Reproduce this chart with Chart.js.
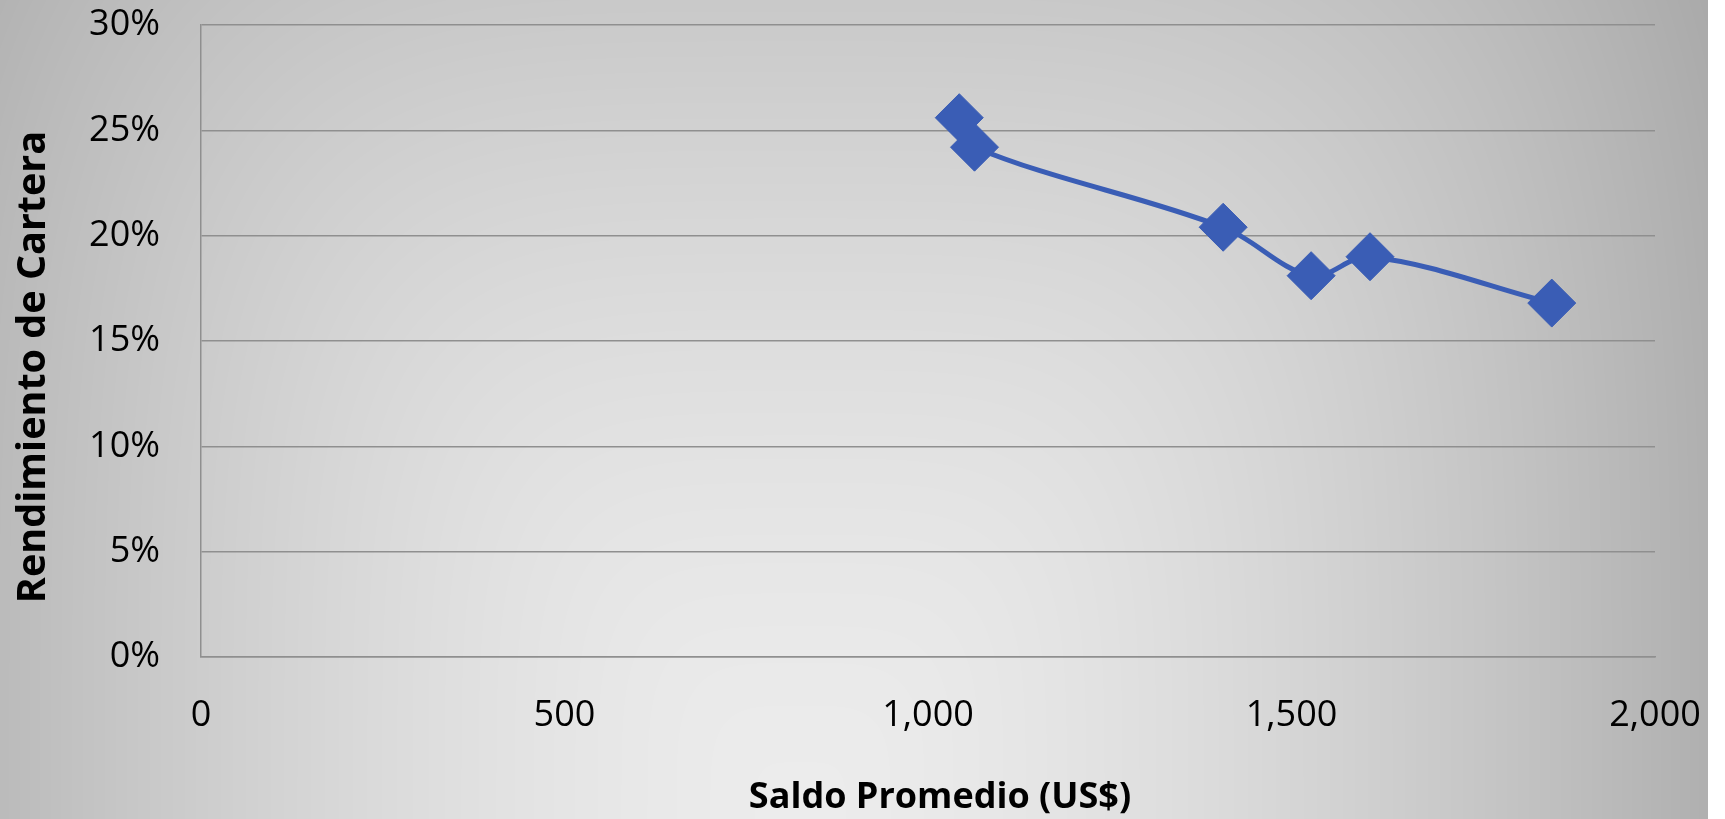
<!DOCTYPE html>
<html>
<head>
<meta charset="utf-8">
<script src="https://cdn.jsdelivr.net/npm/chart.js@4.4.1/dist/chart.umd.min.js"></script>
<style>
  html, body { margin: 0; padding: 0; background: #ffffff; }
  #wrap { width: 1725px; height: 819px; position: relative; }
</style>
</head>
<body>
<div id="wrap"><canvas id="c" width="1725" height="819"></canvas></div>
<script>
// ---- data ----
const saldoPromedio = [1043, 1064, 1406, 1527, 1608, 1858];      // x: Saldo Promedio (US$)
const rendimiento   = [25.6, 24.2, 20.4, 18.1, 19.0, 16.8];      // y: Rendimiento de Cartera (%)
const xTickValues   = [0, 500, 1000, 1500, 2000];
const yTickValues   = [0, 5, 10, 15, 20, 25, 30];
const xTitle = 'Saldo Promedio (US$)';
const yTitle = 'Rendimiento de Cartera';

const points = saldoPromedio.map((x, i) => ({ x: x, y: rendimiento[i] }));

// ---- background gradient (light at bottom centre, darker toward edges) ----
let bgCache = null;
function buildBackground(w, h) {
  const off = document.createElement('canvas');
  off.width = w; off.height = h;
  const octx = off.getContext('2d');
  const fillW = 1708;
  const img = octx.createImageData(w, h);
  const cx = 800, cy = 819, rx = 950, ry = 1200;
  for (let y = 0; y < h; y++) {
    for (let x = 0; x < w; x++) {
      const idx = (y * w + x) * 4;
      if (x >= fillW) {
        img.data[idx] = 255; img.data[idx + 1] = 255; img.data[idx + 2] = 255; img.data[idx + 3] = 255;
        continue;
      }
      const tx = Math.abs(x - cx) / rx, ty = Math.abs(y - cy) / ry;
      const t = Math.pow(Math.pow(tx, 4) + Math.pow(ty, 4), 0.25);
      let c = 236 - 65 * Math.pow(t, 1.6);
      c = Math.max(150, Math.min(240, c));
      img.data[idx] = c; img.data[idx + 1] = c; img.data[idx + 2] = c; img.data[idx + 3] = 255;
    }
  }
  octx.putImageData(img, 0, 0);
  return off;
}
const bgPlugin = {
  id: 'bgGradient',
  beforeDraw(chart) {
    if (!bgCache) bgCache = buildBackground(chart.width, chart.height);
    chart.ctx.save();
    chart.ctx.drawImage(bgCache, 0, 0);
    chart.ctx.restore();
  }
};

// ---- axis titles, placed as in the reference ----
const titleFont = '"Open Sans", sans-serif';
const axisTitlePlugin = {
  id: 'axisTitles',
  afterDraw(chart) {
    const ctx = chart.ctx;
    ctx.save();
    ctx.fillStyle = '#000000';
    ctx.textAlign = 'center';
    ctx.textBaseline = 'alphabetic';
    ctx.font = 'bold 36px ' + titleFont;
    ctx.fillText(xTitle, 940, 808);
    ctx.translate(45, 367);
    ctx.rotate(-Math.PI / 2);
    ctx.font = 'bold 39.5px ' + titleFont;
    ctx.fillText(yTitle, 0, 0);
    ctx.restore();
  }
};

const lineColor = '#3A5DB5';
const gridColor = '#8f8f8f';
const tickFont = { family: '"Open Sans", sans-serif', size: 36 };

new Chart(document.getElementById('c'), {
  type: 'scatter',
  data: {
    datasets: [{
      data: points,
      showLine: true,
      borderColor: lineColor,
      backgroundColor: lineColor,
      borderWidth: 5,
      tension: 0.35,
      pointStyle: 'rectRot',
      pointRadius: 24,
      pointHoverRadius: 24,
      pointBorderWidth: 1,
      pointBorderColor: lineColor,
      pointBackgroundColor: lineColor
    }]
  },
  options: {
    responsive: false,
    animation: false,
    events: [],
    layout: { padding: { left: 0, right: 70, top: 22, bottom: 0 } },
    plugins: { legend: { display: false }, tooltip: { enabled: false } },
    scales: {
      x: {
        type: 'linear',
        min: xTickValues[0],
        max: xTickValues[xTickValues.length - 1],
        afterBuildTicks: (scale) => { scale.ticks = xTickValues.map(v => ({ value: v })); },
        afterFit: (scale) => { scale.height = 162; scale.paddingLeft = 0; scale.paddingRight = 0; },
        grid: { display: false, drawTicks: false },
        border: { display: true, color: gridColor, width: 1.5 },
        ticks: {
          padding: 37,
          color: '#000000',
          font: tickFont,
          maxRotation: 0,
          autoSkip: false,
          callback: (v) => Number(v).toLocaleString('en-US')
        },
        title: { display: false, text: xTitle }
      },
      y: {
        type: 'linear',
        min: yTickValues[0],
        max: yTickValues[yTickValues.length - 1],
        afterBuildTicks: (scale) => { scale.ticks = yTickValues.map(v => ({ value: v })); },
        afterFit: (scale) => { scale.width = 201; scale.paddingTop = 0; scale.paddingBottom = 0; },
        grid: { display: true, color: gridColor, lineWidth: 1.5, drawTicks: false },
        border: { display: true, color: gridColor, width: 1.5 },
        ticks: {
          padding: 41,
          color: '#000000',
          font: tickFont,
          autoSkip: false,
          callback: (v) => v + '%'
        },
        title: { display: false, text: yTitle }
      }
    }
  },
  plugins: [bgPlugin, axisTitlePlugin]
});
</script>
</body>
</html>
